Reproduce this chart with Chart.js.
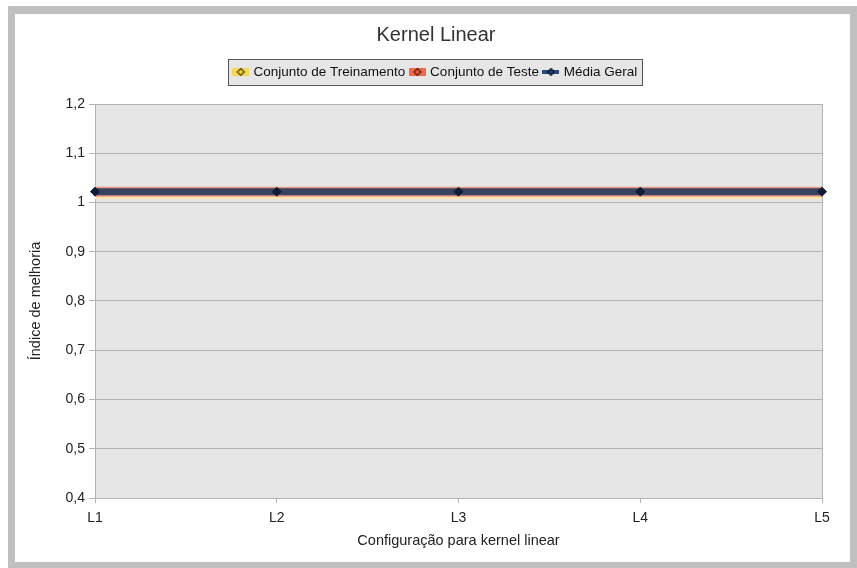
<!DOCTYPE html>
<html>
<head>
<meta charset="utf-8">
<script src="https://cdn.jsdelivr.net/npm/chart.js@4.4.1/dist/chart.umd.min.js"></script>
<style>
  html, body { margin: 0; padding: 0; background: #ffffff; }
  #wrap { width: 857px; height: 568px; }
</style>
</head>
<body>
<div id="wrap"><canvas id="chart" width="857" height="568"></canvas></div>
<script>
// Categories and series
const categories = ['L1', 'L2', 'L3', 'L4', 'L5'];
const treinamento = [1.019, 1.019, 1.019, 1.019, 1.019];
const teste = [1.022, 1.022, 1.022, 1.022, 1.022];
const mediaGeral = [1.022, 1.022, 1.022, 1.022, 1.022];
const yMin = 0.4, yMax = 1.2, yStep = 0.1;

const FONT = "'Liberation Sans', Arial, sans-serif";

// Small legend icons: coloured bar with a diamond marker
function makeIcon(barColor, barH, diaFill, diaStroke) {
  const c = document.createElement('canvas');
  c.width = 17; c.height = 10;
  const g = c.getContext('2d');
  g.fillStyle = barColor;
  g.fillRect(0, (10 - barH) / 2, 17, barH);
  g.beginPath();
  g.moveTo(8.5, 1.5); g.lineTo(12, 5); g.lineTo(8.5, 8.5); g.lineTo(5, 5); g.closePath();
  g.fillStyle = diaFill; g.fill();
  g.lineWidth = 1.2; g.strokeStyle = diaStroke; g.stroke();
  return c;
}
const icons = [
  makeIcon('#f7d75a', 8, '#f5d23c', '#4a4010'),
  makeIcon('#ea6a4a', 8, '#ea5a3a', '#5a1a10'),
  makeIcon('#2a4a7a', 4, '#1f3a66', '#0e1a33')
];

const framePlugin = {
  id: 'frame',
  afterInit(chart) {
    // leave room between the legend and the plot area
    const lg = chart.legend;
    if (lg) {
      const origFit = lg.fit.bind(lg);
      lg.fit = function () { origFit(); this.height += 15.25; };
    }
  },
  beforeDraw(chart) {
    const ctx = chart.ctx;
    const a = chart.chartArea;
    ctx.save();
    ctx.fillStyle = '#ffffff';
    ctx.fillRect(0, 0, chart.width, chart.height);
    ctx.fillStyle = '#c0c0c0';
    ctx.fillRect(8, 6, 849, 562);
    ctx.fillStyle = '#ffffff';
    ctx.fillRect(15, 14, 835, 548);
    // plot background
    ctx.fillStyle = '#e6e6e6';
    ctx.fillRect(a.left, a.top, a.right - a.left, a.bottom - a.top);
    ctx.strokeStyle = '#b3b3b3';
    ctx.lineWidth = 1;
    ctx.beginPath();
    ctx.moveTo(Math.round(a.right) + 0.5, a.top);
    ctx.lineTo(Math.round(a.right) + 0.5, a.bottom);
    ctx.stroke();
    // legend frame
    const hb = chart.legend && chart.legend.legendHitBoxes;
    if (hb && hb.length) {
      let x0 = Infinity, x1 = -Infinity, y0 = Infinity, y1 = -Infinity;
      hb.forEach(b => {
        x0 = Math.min(x0, b.left); x1 = Math.max(x1, b.left + b.width);
        y0 = Math.min(y0, b.top); y1 = Math.max(y1, b.top + b.height);
      });
      const L = Math.round(x0 - 7) + 0.5, T = Math.round(y0 - 6) + 0.5;
      const W = Math.round(x1 - x0 + 12), H = Math.round(y1 - y0 + 12);
      ctx.fillStyle = '#e6e6e6';
      ctx.fillRect(L, T, W, H);
      ctx.strokeStyle = '#555555';
      ctx.strokeRect(L, T, W, H);
    }
    ctx.restore();
  }
};

new Chart(document.getElementById('chart'), {
  type: 'line',
  data: {
    labels: categories,
    datasets: [
      {
        label: 'Conjunto de Treinamento',
        data: treinamento,
        borderColor: '#f6e2b4',
        borderWidth: 12,
        pointRadius: 0,
        pointStyle: icons[0],
        order: 3
      },
      {
        label: 'Conjunto de Teste',
        data: teste,
        borderColor: '#eb9a7e',
        borderWidth: 10,
        pointRadius: 0,
        pointStyle: icons[1],
        order: 2
      },
      {
        label: 'Média Geral',
        data: mediaGeral,
        borderColor: '#3a4262',
        borderWidth: 7,
        pointStyle: 'rectRot',
        pointRadius: 4.5,
        pointBackgroundColor: '#0f1c36',
        pointBorderColor: '#0f1c36',
        pointBorderWidth: 1,
        order: 1
      }
    ]
  },
  options: {
    responsive: false,
    animation: false,
    events: [],
    layout: { padding: { left: 22, right: 7, top: 14, bottom: 6 } },
    plugins: {
      title: {
        display: true,
        text: 'Kernel Linear',
        color: '#333333',
        font: { family: FONT, size: 20, weight: 'normal' },
        padding: { top: 9, bottom: 12.25 }
      },
      legend: {
        display: true,
        position: 'top',
        labels: {
          color: '#111111',
          font: { family: FONT, size: 13.5 },
          padding: 6,
          usePointStyle: true,
          pointStyleWidth: 12,
          generateLabels(chart) {
            return chart.data.datasets.map((ds, i) => ({
              text: ds.label,
              pointStyle: icons[i],
              datasetIndex: i,
              fontColor: '#111111',
              lineWidth: 0,
              hidden: false
            }));
          }
        }
      },
      tooltip: { enabled: false }
    },
    scales: {
      x: {
        type: 'category',
        offset: false,
        afterFit(s) { s.height = 64; s.paddingRight = 35; },
        grid: {
          display: true,
          drawOnChartArea: false,
          drawTicks: true,
          tickLength: 5,
          color: '#b3b3b3'
        },
        border: { display: true, color: '#b3b3b3', width: 1 },
        ticks: {
          color: '#222222',
          font: { family: FONT, size: 14 },
          padding: 7,
          maxRotation: 0
        },
        title: {
          display: true,
          text: 'Configuração para kernel linear',
          color: '#222222',
          font: { family: FONT, size: 14.5 },
          padding: { top: 2, bottom: 12 }
        }
      },
      y: {
        min: yMin,
        max: yMax,
        afterFit(s) { s.width = 73; },
        grid: {
          color: '#b3b3b3',
          tickLength: 6,
          drawTicks: true
        },
        border: { display: true, color: '#b3b3b3', width: 1 },
        ticks: {
          stepSize: yStep,
          color: '#222222',
          font: { family: FONT, size: 14 },
          padding: 4,
          callback(v) { return String(Number(v.toFixed(1))).replace('.', ','); }
        },
        title: {
          display: true,
          text: 'Índice de melhoria',
          color: '#222222',
          font: { family: FONT, size: 14.5 },
          padding: { top: 5, bottom: 2 }
        }
      }
    }
  },
  plugins: [framePlugin]
});
</script>
</body>
</html>
